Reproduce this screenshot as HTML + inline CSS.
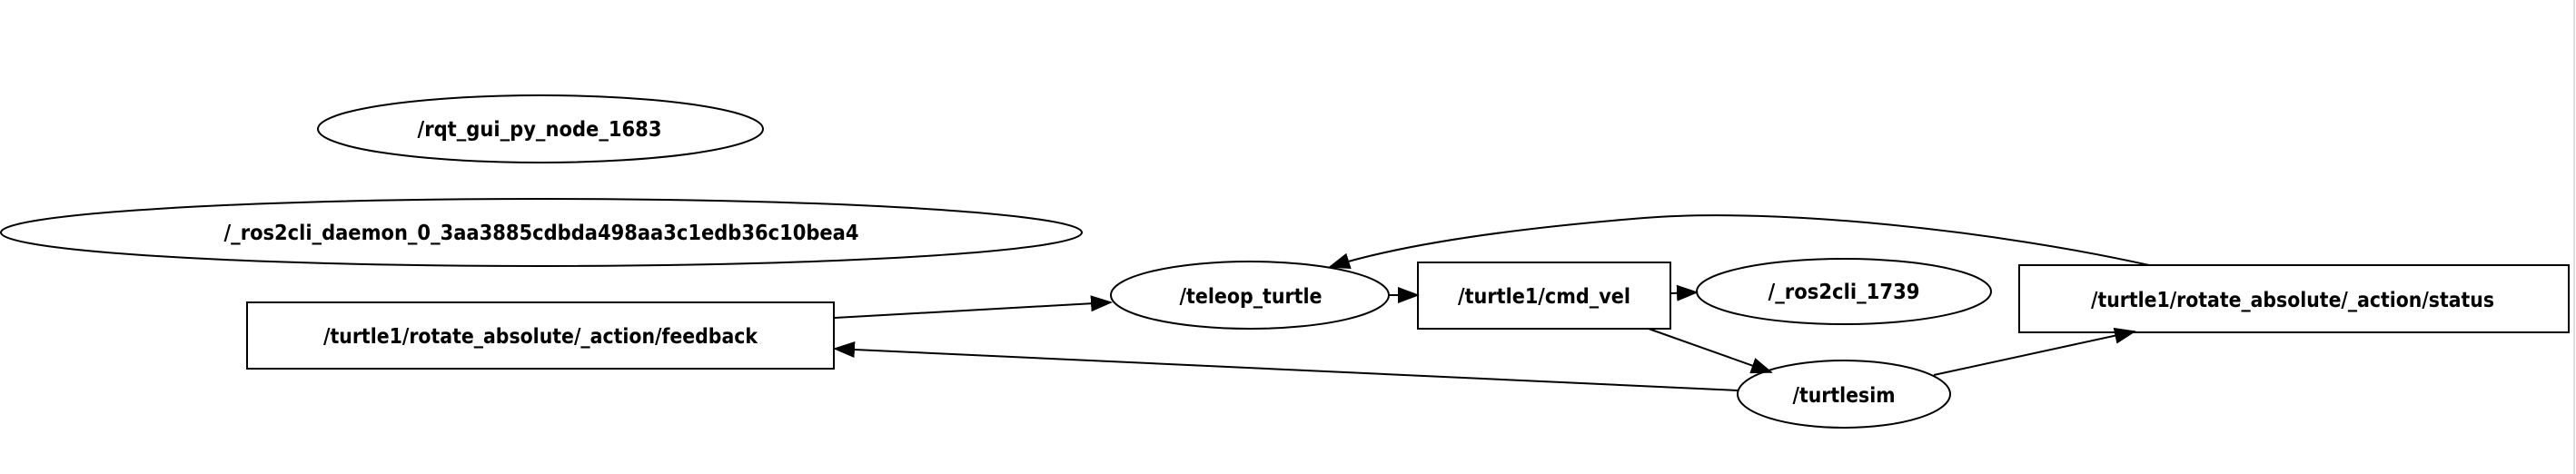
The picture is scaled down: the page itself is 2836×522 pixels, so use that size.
<!DOCTYPE html>
<html><head><meta charset="utf-8"><style>
html,body{margin:0;padding:0;background:#fff;}
svg{display:block;}
text{font-family:"DejaVu Sans","Liberation Sans",sans-serif;font-weight:bold;font-size:23px;font-stretch:condensed;fill:#000;}
</style></head><body>
<svg width="2836" height="522" viewBox="0 0 2836 522" xmlns="http://www.w3.org/2000/svg">
<defs>
<marker id="a" markerWidth="12" markerHeight="10" refX="11" refY="5" orient="auto" markerUnits="userSpaceOnUse">
<path d="M0,0 L12,5 L0,10 z" fill="#000"/>
</marker>
<marker id="b" markerWidth="24" markerHeight="18" refX="22" refY="9" orient="auto" markerUnits="userSpaceOnUse">
<path d="M0,0 L24,9 L0,18 z" fill="#000"/>
</marker>
</defs>
<g fill="none" stroke="#000" stroke-width="2">
<ellipse cx="595" cy="142" rx="245" ry="37"/>
<ellipse cx="596" cy="256" rx="595" ry="37"/>
<rect x="272" y="333" width="646" height="73"/>
<ellipse cx="1376" cy="325" rx="153" ry="37"/>
<rect x="1561" y="289" width="278" height="73"/>
<ellipse cx="2030" cy="321" rx="162" ry="36"/>
<rect x="2223" y="292" width="605" height="74"/>
<ellipse cx="2030" cy="434" rx="117" ry="37"/>
<line x1="2834" y1="0" x2="2834" y2="522" stroke="#ddd"/>
<path d="M919,350 L1223,333" marker-end="url(#b)"/>
<path d="M1913,430 L919,384" marker-end="url(#b)"/>
<path d="M1529,325 L1561,325" marker-end="url(#b)"/>
<path d="M1839,323 L1868,322" marker-end="url(#b)"/>
<path d="M1815,362 L1950,410" marker-end="url(#b)"/>
<path d="M2129,413 L2350,365" marker-end="url(#b)"/>
<path d="M2366,292 C2200,255 1960,228 1810,240 C1660,252 1540,270 1464,294" marker-end="url(#b)"/>
</g>
<text x="594" y="150" text-anchor="middle" textLength="269" lengthAdjust="spacingAndGlyphs">/rqt_gui_py_node_1683</text>
<text x="596" y="264" text-anchor="middle" textLength="699" lengthAdjust="spacingAndGlyphs">/_ros2cli_daemon_0_3aa3885cdbda498aa3c1edb36c10bea4</text>
<text x="595" y="378" text-anchor="middle" textLength="478" lengthAdjust="spacingAndGlyphs">/turtle1/rotate_absolute/_action/feedback</text>
<text x="1377" y="334" text-anchor="middle" textLength="157" lengthAdjust="spacingAndGlyphs">/teleop_turtle</text>
<text x="1700" y="334" text-anchor="middle" textLength="190" lengthAdjust="spacingAndGlyphs">/turtle1/cmd_vel</text>
<text x="2030" y="329" text-anchor="middle" textLength="167" lengthAdjust="spacingAndGlyphs">/_ros2cli_1739</text>
<text x="2524" y="338" text-anchor="middle" textLength="444" lengthAdjust="spacingAndGlyphs">/turtle1/rotate_absolute/_action/status</text>
<text x="2030" y="443" text-anchor="middle" textLength="113" lengthAdjust="spacingAndGlyphs">/turtlesim</text>
</svg>
</body></html>
